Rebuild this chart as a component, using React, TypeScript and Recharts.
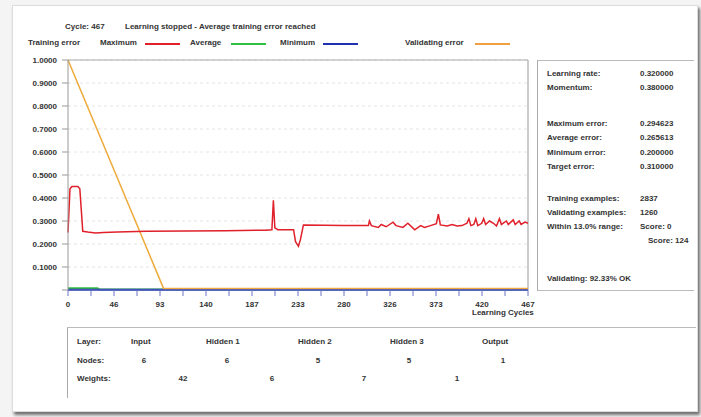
import React from 'react';
import { LineChart, Line, XAxis, YAxis, CartesianGrid, ReferenceLine } from 'recharts';

// Maximum training error (red)
const maxCycles = [0, 2, 4, 10, 12, 15, 20, 28, 36, 50, 80, 120, 160, 200, 207, 208.5, 210, 213, 229, 231, 234, 236, 239, 260, 280, 300, 305, 306, 308, 315, 318, 323, 330, 333, 340, 345, 350, 352, 358, 362, 368, 374, 376, 378, 385, 390, 395, 400, 405, 407, 409, 412, 414, 416, 420, 422, 424, 428, 432, 435, 438, 440, 445, 447, 452, 454, 458, 460, 464, 467];
const maxValues = [0.25, 0.44, 0.45, 0.45, 0.44, 0.255, 0.252, 0.248, 0.25, 0.252, 0.255, 0.257, 0.258, 0.26, 0.262, 0.39, 0.27, 0.262, 0.262, 0.21, 0.19, 0.22, 0.283, 0.282, 0.28, 0.28, 0.28, 0.3, 0.28, 0.272, 0.285, 0.275, 0.295, 0.28, 0.272, 0.29, 0.27, 0.262, 0.28, 0.272, 0.28, 0.288, 0.33, 0.283, 0.278, 0.285, 0.278, 0.28, 0.29, 0.31, 0.28, 0.285, 0.31, 0.28, 0.29, 0.31, 0.285, 0.3, 0.29, 0.278, 0.31, 0.285, 0.3, 0.285, 0.305, 0.285, 0.3, 0.285, 0.295, 0.29];

// Average training error (green)
const avgCycles = [0, 30, 32, 467];
const avgValues = [0.008, 0.008, 0.002, 0.002];

// Minimum training error (blue)
const minCycles = [0, 467];
const minValues = [0.001, 0.001];

// Validating error (orange)
const valCycles = [0, 97, 467];
const valValues = [1.0, 0.007, 0.007];

const yTicks = [0, 0.1, 0.2, 0.3, 0.4, 0.5, 0.6, 0.7, 0.8, 0.9, 1.0];
const xTicks = [0, 23.35, 46.7, 70.05, 93.4, 116.75, 140.1, 163.45, 186.8, 210.15, 233.5, 256.85, 280.2, 303.55, 326.9, 350.25, 373.6, 396.95, 420.3, 443.65, 467];
const xTickLabels = ['0', '', '46', '', '93', '', '140', '', '187', '', '233', '', '280', '', '326', '', '373', '', '420', '', '467'];

const infoTop = [
  ['Learning rate:', '0.320000'],
  ['Momentum:', '0.380000'],
];
const infoErrors = [
  ['Maximum error:', '0.294623'],
  ['Average error:', '0.265613'],
  ['Minimum error:', '0.200000'],
  ['Target error:', '0.310000'],
];
const infoExamples = [
  ['Training examples:', '2837'],
  ['Validating examples:', '1260'],
  ['Within 13.0% range:', 'Score: 0'],
];
const layerNames = ['Input', 'Hidden 1', 'Hidden 2', 'Hidden 3', 'Output'];
const layerNodes = ['6', '6', '5', '5', '1'];
const layerWeights = ['42', '6', '7', '1'];

const build = (xs: number[], ys: number[]) => xs.map((c, i) => ({ c, v: ys[i] }));

const FONT = '"Liberation Sans", Arial, sans-serif';
const txt: React.CSSProperties = {
  position: 'absolute',
  fontFamily: FONT,
  fontSize: 8,
  fontWeight: 'bold',
  color: '#333',
  whiteSpace: 'nowrap',
  lineHeight: '10px',
};

const T = ({ x, y, children, center }: { x: number; y: number; children: React.ReactNode; center?: boolean }) => (
  <div style={{ ...txt, left: x, top: y - 5, transform: center ? 'translateX(-50%)' : undefined }}>{children}</div>
);

const LegendLine = ({ x, y, color }: { x: number; y: number; color: string }) => (
  <div style={{ position: 'absolute', left: x, top: y, width: 35, height: 1.5, background: color }} />
);

export default function App() {
  return (
    <div style={{ position: 'absolute', left: 0, top: 0, width: 701, height: 417, background: '#f4f4f4', overflow: 'hidden' }}>
      <div
        style={{
          position: 'absolute',
          left: 12,
          top: 5,
          width: 684,
          height: 405,
          background: '#fff',
          border: '1px solid #ddd',
          boxShadow: '2px 3px 3px rgba(0,0,0,0.55)',
        }}
      />
      {/* Title row */}
      <T x={65} y={27}>Cycle: 467</T>
      <T x={125} y={27}>Learning stopped - Average training error reached</T>
      {/* Legend row */}
      <T x={28} y={43}>Training error</T>
      <T x={100} y={43}>Maximum</T>
      <LegendLine x={145} y={43} color="#e0202a" />
      <T x={190} y={43}>Average</T>
      <LegendLine x={231} y={43} color="#30c040" />
      <T x={280} y={43}>Minimum</T>
      <LegendLine x={323} y={43} color="#2030b0" />
      <T x={405} y={43}>Validating error</T>
      <LegendLine x={475} y={43} color="#f0a040" />

      <div style={{ position: 'absolute', left: 0, top: 0 }}>
        <LineChart width={540} height={320} margin={{ top: 60, right: 12, bottom: 10, left: 0 }}>
          <CartesianGrid vertical={false} stroke="#e4e4e4" strokeDasharray="3 3" />
          <XAxis
            dataKey="c"
            type="number"
            domain={[0, 467]}
            ticks={xTicks}
            allowDuplicatedCategory={false}
            tickFormatter={(v: number, i: number) => xTickLabels[i] ?? ''}
            tick={{ fontSize: 8, fontFamily: FONT, fontWeight: 'bold', fill: '#333' }}
            tickSize={6}
            tickMargin={5}
            stroke="#6a74c8"
            height={20}
            interval={0}
          />
          <YAxis
            type="number"
            domain={[0, 1]}
            ticks={yTicks}
            tickFormatter={(v: number) => (v === 0 ? '' : v.toFixed(4))}
            tick={{ fontSize: 8, fontFamily: FONT, fontWeight: 'bold', fill: '#333' }}
            tickSize={6}
            tickMargin={5}
            stroke="#999"
            width={68}
            interval={0}
          />
          <ReferenceLine y={1} stroke="#aaa" />
          <ReferenceLine x={467} stroke="#999" />
          <Line data={build(avgCycles, avgValues)} dataKey="v" stroke="#30c040" strokeWidth={2} dot={false} isAnimationActive={false} />
          <Line data={build(minCycles, minValues)} dataKey="v" stroke="#2030b0" strokeWidth={2} dot={false} isAnimationActive={false} />
          <Line data={build(valCycles, valValues)} dataKey="v" stroke="#eeaa3a" strokeWidth={1.5} dot={false} isAnimationActive={false} />
          <Line data={build(maxCycles, maxValues)} dataKey="v" stroke="#e0202a" strokeWidth={1.5} dot={false} isAnimationActive={false} />
        </LineChart>
      </div>
      <T x={472} y={313}>Learning Cycles</T>

      {/* Right info panel */}
      <div style={{ position: 'absolute', left: 537, top: 60, width: 156, height: 229, borderLeft: '1px solid #aaa', borderTop: '1px solid #bbb', borderBottom: '1px solid #bbb' }} />
      {infoTop.map((r, i) => (
        <React.Fragment key={'a' + i}>
          <T x={547} y={74 + i * 14}>{r[0]}</T>
          <T x={640} y={74 + i * 14}>{r[1]}</T>
        </React.Fragment>
      ))}
      {infoErrors.map((r, i) => (
        <React.Fragment key={'b' + i}>
          <T x={547} y={124 + i * 14.3}>{r[0]}</T>
          <T x={640} y={124 + i * 14.3}>{r[1]}</T>
        </React.Fragment>
      ))}
      {infoExamples.map((r, i) => (
        <React.Fragment key={'c' + i}>
          <T x={547} y={199 + i * 14}>{r[0]}</T>
          <T x={640} y={199 + i * 14}>{r[1]}</T>
        </React.Fragment>
      ))}
      <T x={648} y={241}>Score: 124</T>
      <T x={547} y={279}>Validating: 92.33% OK</T>

      {/* Bottom layer panel */}
      <div style={{ position: 'absolute', left: 67, top: 327, width: 628, height: 70, borderLeft: '1px solid #aaa', borderTop: '1px solid #bbb' }} />
      <T x={77} y={342}>Layer:</T>
      <T x={77} y={361}>Nodes:</T>
      <T x={77} y={379}>Weights:</T>
      {layerNames.map((n, i) => (
        <T key={'n' + i} x={[131, 206, 298, 390, 482][i]} y={342}>{n}</T>
      ))}
      {layerNodes.map((n, i) => (
        <T key={'d' + i} x={[144, 227, 318, 409, 503][i]} y={361} center>{n}</T>
      ))}
      {layerWeights.map((n, i) => (
        <T key={'w' + i} x={[183, 272, 364, 457][i]} y={379} center>{n}</T>
      ))}
    </div>
  );
}
